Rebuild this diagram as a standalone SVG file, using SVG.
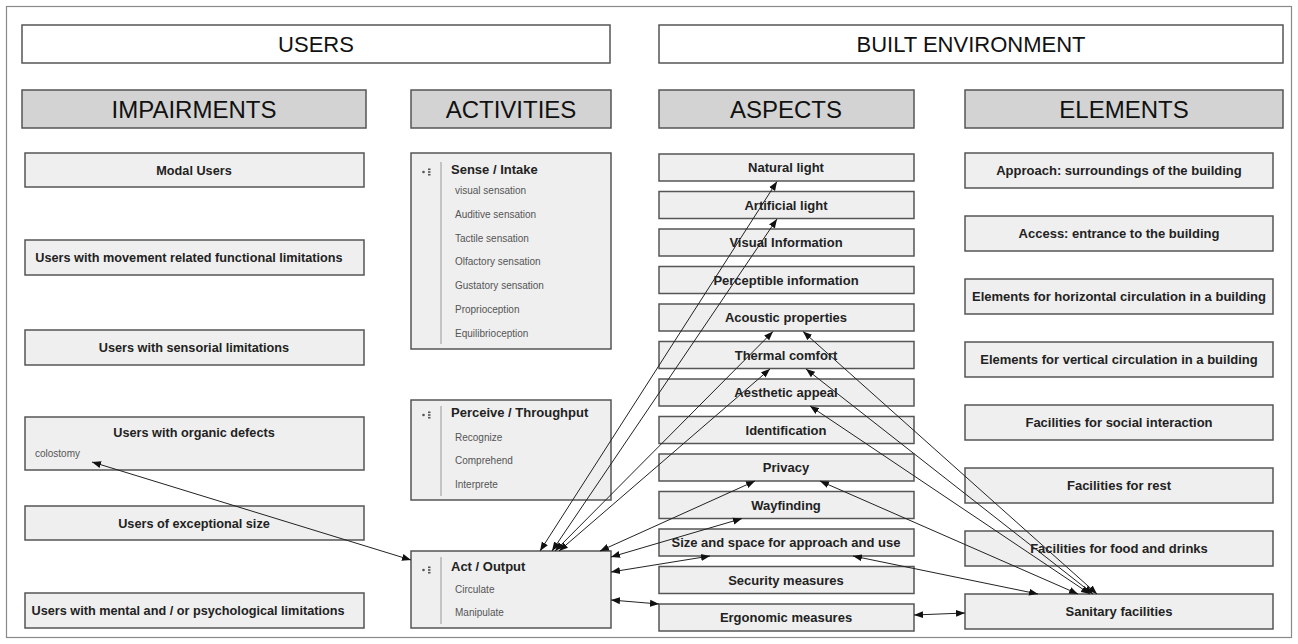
<svg xmlns="http://www.w3.org/2000/svg" width="1298" height="644" viewBox="0 0 1298 644">
<defs>
<style>
.frame{fill:#fff;stroke:#8a8a8a;stroke-width:1.2}
.top{fill:#fff;stroke:#555;stroke-width:1.5}
.hdr{fill:#d3d3d3;stroke:#555;stroke-width:1.5}
.box{fill:#efefef;stroke:#555;stroke-width:1.5}
.ht{font-family:"Liberation Sans",Arial,sans-serif;font-size:22px;fill:#111;text-anchor:middle}
.hh{font-family:"Liberation Sans",Arial,sans-serif;font-size:24px;fill:#111;text-anchor:middle}
.nt{font-family:"Liberation Sans",Arial,sans-serif;font-size:12.7px;font-weight:bold;fill:#222;text-anchor:middle}
.at{font-family:"Liberation Sans",Arial,sans-serif;font-size:13px;font-weight:bold;fill:#222;text-anchor:middle}
.tt{font-family:"Liberation Sans",Arial,sans-serif;font-size:13px;font-weight:bold;fill:#222}
.it{font-family:"Liberation Sans",Arial,sans-serif;font-size:10px;fill:#555}
.sep{stroke:#999;stroke-width:1}
.ic{fill:#555}
.cn{stroke:#222;stroke-width:1;fill:none;marker-start:url(#ah);marker-end:url(#ah)}
</style>
<marker id="ah" markerUnits="userSpaceOnUse" markerWidth="10" markerHeight="8" refX="9" refY="4" orient="auto-start-reverse">
<path d="M0,0.5 L9,4 L0,7.5 z" fill="#111"/>
</marker>
</defs>
<rect class="frame" x="6.5" y="6.5" width="1285" height="631"/>

<g id="users"><rect class="top" x="22" y="25" width="588" height="38"/><text class="ht" x="316" y="52">USERS</text></g>
<g id="built-environment"><rect class="top" x="659" y="25" width="624" height="38"/><text class="ht" x="971" y="52">BUILT ENVIRONMENT</text></g>

<g id="impairments"><rect class="hdr" x="22" y="90" width="344" height="38"/><text class="hh" x="194" y="117.5">IMPAIRMENTS</text></g>
<g id="activities"><rect class="hdr" x="411" y="90" width="200" height="38"/><text class="hh" x="511" y="117.5">ACTIVITIES</text></g>
<g id="aspects"><rect class="hdr" x="659" y="90" width="255" height="38"/><text class="hh" x="786" y="117.5">ASPECTS</text></g>
<g id="elements"><rect class="hdr" x="965" y="90" width="318" height="38"/><text class="hh" x="1124" y="117.5">ELEMENTS</text></g>

<g id="modal-users"><rect class="box" x="25" y="153" width="339" height="34"/><text class="nt" x="194" y="174.5">Modal Users</text></g>
<g id="movement"><rect class="box" x="25" y="240" width="339" height="35"/><text class="nt" x="189" y="262">Users with movement related functional limitations</text></g>
<g id="sensorial"><rect class="box" x="25" y="330" width="339" height="35"/><text class="nt" x="194" y="352">Users with sensorial limitations</text></g>
<g id="organic"><rect class="box" x="25" y="417" width="339" height="53"/><text class="nt" x="194" y="436.5">Users with organic defects</text><text class="it" x="35" y="457">colostomy</text></g>
<g id="exceptional-size"><rect class="box" x="25" y="506" width="339" height="34"/><text class="nt" x="194" y="527.5">Users of exceptional size</text></g>
<g id="mental"><rect class="box" x="25" y="593" width="339" height="35"/><text class="nt" x="188" y="615">Users with mental and / or psychological limitations</text></g>

<g id="sense-intake"><rect class="box" x="411" y="153" width="200" height="196"/>
<circle class="ic" cx="423.5" cy="172" r="1.3"/><rect class="ic" x="428" y="168.5" width="2.5" height="1.6"/><rect class="ic" x="428" y="171.2" width="2.5" height="1.6"/><rect class="ic" x="428" y="173.9" width="2.5" height="1.6"/>
<line class="sep" x1="441" y1="162" x2="441" y2="344"/>
<text class="tt" x="451" y="174">Sense / Intake</text>
<text class="it" x="455" y="194">visual sensation</text>
<text class="it" x="455" y="218">Auditive sensation</text>
<text class="it" x="455" y="242">Tactile sensation</text>
<text class="it" x="455" y="265">Olfactory sensation</text>
<text class="it" x="455" y="289">Gustatory sensation</text>
<text class="it" x="455" y="313">Proprioception</text>
<text class="it" x="455" y="337">Equilibrioception</text>
</g>
<g id="perceive-throughput"><rect class="box" x="411" y="400" width="200" height="100"/>
<circle class="ic" cx="423.5" cy="415" r="1.3"/><rect class="ic" x="428" y="411.5" width="2.5" height="1.6"/><rect class="ic" x="428" y="414.2" width="2.5" height="1.6"/><rect class="ic" x="428" y="416.9" width="2.5" height="1.6"/>
<line class="sep" x1="441" y1="406" x2="441" y2="496"/>
<text class="tt" x="451" y="417">Perceive / Throughput</text>
<text class="it" x="455" y="441">Recognize</text>
<text class="it" x="455" y="464">Comprehend</text>
<text class="it" x="455" y="488">Interprete</text>
</g>
<g id="act-output"><rect class="box" x="411" y="551" width="200" height="77"/>
<circle class="ic" cx="423.5" cy="570" r="1.3"/><rect class="ic" x="428" y="566.5" width="2.5" height="1.6"/><rect class="ic" x="428" y="569.2" width="2.5" height="1.6"/><rect class="ic" x="428" y="571.9" width="2.5" height="1.6"/>
<line class="sep" x1="441" y1="557" x2="441" y2="624"/>
<text class="tt" x="451" y="571">Act / Output</text>
<text class="it" x="455" y="593">Circulate</text>
<text class="it" x="455" y="616">Manipulate</text>
</g>

<g id="natural-light"><rect class="box" x="659" y="154" width="255" height="27"/><text class="at" x="786" y="172">Natural light</text></g>
<g id="artificial-light"><rect class="box" x="659" y="191.5" width="255" height="27"/><text class="at" x="786" y="209.5">Artificial light</text></g>
<g id="visual-information"><rect class="box" x="659" y="229" width="255" height="27"/><text class="at" x="786" y="247">Visual Information</text></g>
<g id="perceptible-information"><rect class="box" x="659" y="266.5" width="255" height="27"/><text class="at" x="786" y="284.5">Perceptible information</text></g>
<g id="acoustic-properties"><rect class="box" x="659" y="304" width="255" height="27"/><text class="at" x="786" y="322">Acoustic properties</text></g>
<g id="thermal-comfort"><rect class="box" x="659" y="341.5" width="255" height="27"/><text class="at" x="786" y="359.5">Thermal comfort</text></g>
<g id="aesthetic-appeal"><rect class="box" x="659" y="379" width="255" height="27"/><text class="at" x="786" y="397">Aesthetic appeal</text></g>
<g id="identification"><rect class="box" x="659" y="416.5" width="255" height="27"/><text class="at" x="786" y="434.5">Identification</text></g>
<g id="privacy"><rect class="box" x="659" y="454" width="255" height="27"/><text class="at" x="786" y="472">Privacy</text></g>
<g id="wayfinding"><rect class="box" x="659" y="491.5" width="255" height="27"/><text class="at" x="786" y="509.5">Wayfinding</text></g>
<g id="size-space"><rect class="box" x="659" y="529" width="255" height="27"/><text class="at" x="786" y="547">Size and space for approach and use</text></g>
<g id="security-measures"><rect class="box" x="659" y="566.5" width="255" height="27"/><text class="at" x="786" y="584.5">Security measures</text></g>
<g id="ergonomic-measures"><rect class="box" x="659" y="604" width="255" height="27"/><text class="at" x="786" y="622">Ergonomic measures</text></g>

<g id="approach"><rect class="box" x="965" y="153" width="308" height="35"/><text class="at" x="1119" y="175">Approach: surroundings of the building</text></g>
<g id="access"><rect class="box" x="965" y="216" width="308" height="35"/><text class="at" x="1119" y="238">Access: entrance to the building</text></g>
<g id="horizontal-circulation"><rect class="box" x="965" y="279" width="308" height="35"/><text class="at" x="1119" y="301">Elements for horizontal circulation in a building</text></g>
<g id="vertical-circulation"><rect class="box" x="965" y="342" width="308" height="35"/><text class="at" x="1119" y="364">Elements for vertical circulation in a building</text></g>
<g id="social-interaction"><rect class="box" x="965" y="405" width="308" height="35"/><text class="at" x="1119" y="427">Facilities for social interaction</text></g>
<g id="rest"><rect class="box" x="965" y="468" width="308" height="35"/><text class="at" x="1119" y="490">Facilities for rest</text></g>
<g id="food-drinks"><rect class="box" x="965" y="531" width="308" height="35"/><text class="at" x="1119" y="553">Facilities for food and drinks</text></g>
<g id="sanitary"><rect class="box" x="965" y="594" width="308" height="35"/><text class="at" x="1119" y="616">Sanitary facilities</text></g>

<g id="connectors">
<line class="cn" x1="777" y1="181.5" x2="540" y2="551"/>
<line class="cn" x1="777" y1="219" x2="552" y2="551"/>
<line class="cn" x1="773" y1="331.5" x2="555" y2="551"/>
<line class="cn" x1="770" y1="369" x2="559" y2="551"/>
<line class="cn" x1="755" y1="481" x2="600" y2="551"/>
<line class="cn" x1="742" y1="518.5" x2="611" y2="557"/>
<line class="cn" x1="710" y1="556" x2="611" y2="572"/>
<line class="cn" x1="659" y1="604" x2="611" y2="600"/>
<line class="cn" x1="92" y1="462" x2="411" y2="560"/>
<line class="cn" x1="803" y1="331.5" x2="1097" y2="594"/>
<line class="cn" x1="806" y1="369" x2="1093" y2="594"/>
<line class="cn" x1="810" y1="406" x2="1090" y2="594"/>
<line class="cn" x1="820" y1="481" x2="1078" y2="594"/>
<line class="cn" x1="853" y1="556" x2="1038" y2="594"/>
<line class="cn" x1="914" y1="615" x2="965" y2="613"/>
</g>
</svg>
